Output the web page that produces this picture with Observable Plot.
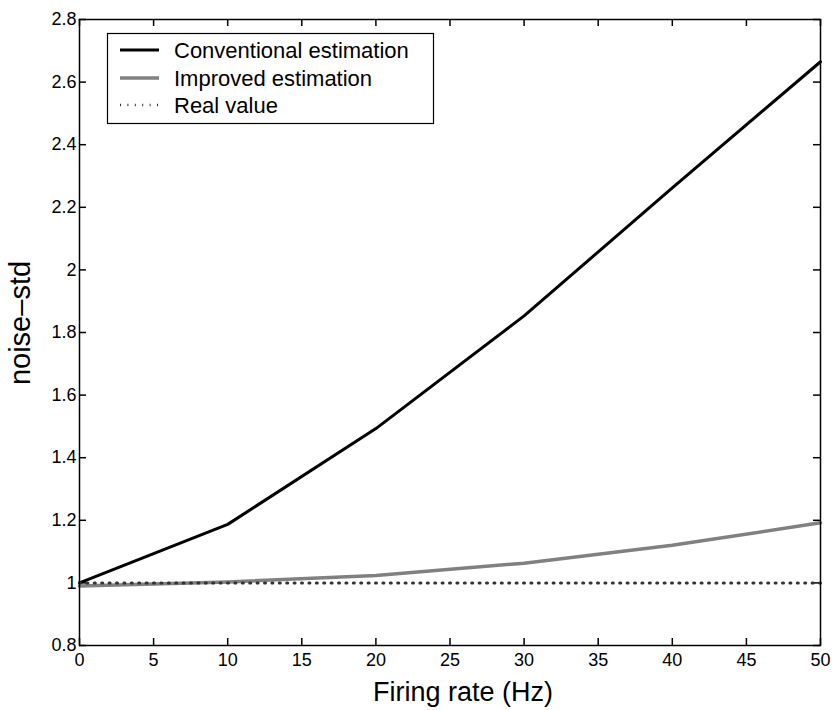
<!DOCTYPE html>
<html>
<head>
<meta charset="utf-8">
<script src="https://cdn.jsdelivr.net/npm/d3@7"></script>
<script src="https://cdn.jsdelivr.net/npm/@observablehq/plot@0.6"></script>
<style>
  html, body { margin: 0; padding: 0; background: #fff; }
  #chart svg { display: block; }
</style>
</head>
<body>
<div id="chart"></div>
<script>
// ---- data ----
const firingRate = [0, 10, 20, 30, 40, 50];
const conventional = [1.0, 1.187, 1.493, 1.853, 2.262, 2.665];
const improved = [0.99, 1.003, 1.024, 1.063, 1.12, 1.192];
const realValue = [1, 1, 1, 1, 1, 1];
const seriesNames = ["Conventional estimation", "Improved estimation", "Real value"];
const xTicks = [0, 5, 10, 15, 20, 25, 30, 35, 40, 45, 50];
const yTicks = [0.8, 1, 1.2, 1.4, 1.6, 1.8, 2, 2.2, 2.4, 2.6, 2.8];
const yTickLabels = ["0.8", "1", "1.2", "1.4", "1.6", "1.8", "2", "2.2", "2.4", "2.6", "2.8"];
const xTitle = "Firing rate (Hz)";
const yTitle = "noise\u2013std";

const rows = (vals, name) => firingRate.map((x, i) => ({x, y: vals[i], series: name}));
const convData = rows(conventional, seriesNames[0]);
const impData = rows(improved, seriesNames[1]);
const realData = rows(realValue, seriesNames[2]);

const W = 833, H = 710;
const mT = 19, mR = 13, mB = 65, mL = 79;
const innerW = W - mL - mR, innerH = H - mT - mB;
const tickLen = 7;
const font = "'Liberation Sans', Arial, Helvetica, sans-serif";

const chart = Plot.plot({
  width: W,
  height: H,
  marginTop: mT,
  marginRight: mR,
  marginBottom: mB,
  marginLeft: mL,
  style: {fontFamily: font, fontSize: "18px", color: "#000", background: "#fff"},
  x: {domain: [0, 50]},
  y: {domain: [0.8, 2.8]},
  marks: [
    // labels
    Plot.axisX({ticks: xTicks, tickSize: 0, tickPadding: 8, label: null, fontSize: 18}),
    Plot.axisY({ticks: yTicks, tickSize: 0, tickPadding: 3, label: null, fontSize: 18,
      tickFormat: d => yTickLabels[yTicks.indexOf(d)]}),
    // inward ticks on all four sides (MATLAB box style)
    Plot.tickX(xTicks, {x: d => d, insetTop: innerH - tickLen, stroke: "#000", strokeWidth: 1.5}),
    Plot.tickX(xTicks, {x: d => d, insetBottom: innerH - tickLen, stroke: "#000", strokeWidth: 1.5}),
    Plot.tickY(yTicks, {y: d => d, insetRight: innerW - tickLen, stroke: "#000", strokeWidth: 1.5}),
    Plot.tickY(yTicks, {y: d => d, insetLeft: innerW - tickLen, stroke: "#000", strokeWidth: 1.5}),
    Plot.line(convData, {x: "x", y: "y", stroke: "#000", strokeWidth: 3}),
    Plot.line(impData, {x: "x", y: "y", stroke: "#808080", strokeWidth: 3.5}),
    Plot.line(realData, {x: "x", y: "y", stroke: "#333", strokeWidth: 3, strokeDasharray: "1,6.4"}),
    Plot.frame({stroke: "#000", strokeWidth: 1.5})
  ]
});

document.getElementById("chart").appendChild(chart);

const svg = d3.select(chart);

// axis titles
svg.append("text")
  .attr("x", 463)
  .attr("y", 701)
  .attr("text-anchor", "middle")
  .attr("font-family", font)
  .attr("font-size", 27)
  .attr("fill", "#000")
  .text(xTitle);

svg.append("text")
  .attr("transform", "translate(30,323) rotate(-90)")
  .attr("text-anchor", "middle")
  .attr("font-family", font)
  .attr("font-size", 29)
  .attr("fill", "#000")
  .text(yTitle);

// legend
const lg = svg.append("g");
lg.append("rect")
  .attr("x", 107.5).attr("y", 33.5).attr("width", 326).attr("height", 90)
  .attr("fill", "#fff").attr("stroke", "#000").attr("stroke-width", 1.2);
const legendStyles = [
  {stroke: "#000", width: 3, dash: null},
  {stroke: "#808080", width: 3.5, dash: null},
  {stroke: "#333", width: 2.5, dash: "1,6.4"}
];
const rowY = [50, 78, 105];
seriesNames.forEach((name, i) => {
  const s = legendStyles[i];
  const ln = lg.append("line")
    .attr("x1", 120).attr("x2", 159).attr("y1", rowY[i]).attr("y2", rowY[i])
    .attr("stroke", s.stroke).attr("stroke-width", s.width);
  if (s.dash) ln.attr("stroke-dasharray", s.dash);
  lg.append("text")
    .attr("x", 174).attr("y", rowY[i]).attr("dy", "0.35em")
    .attr("text-anchor", "start")
    .attr("font-family", font).attr("font-size", 22).attr("fill", "#000")
    .text(name);
});
</script>
</body>
</html>
